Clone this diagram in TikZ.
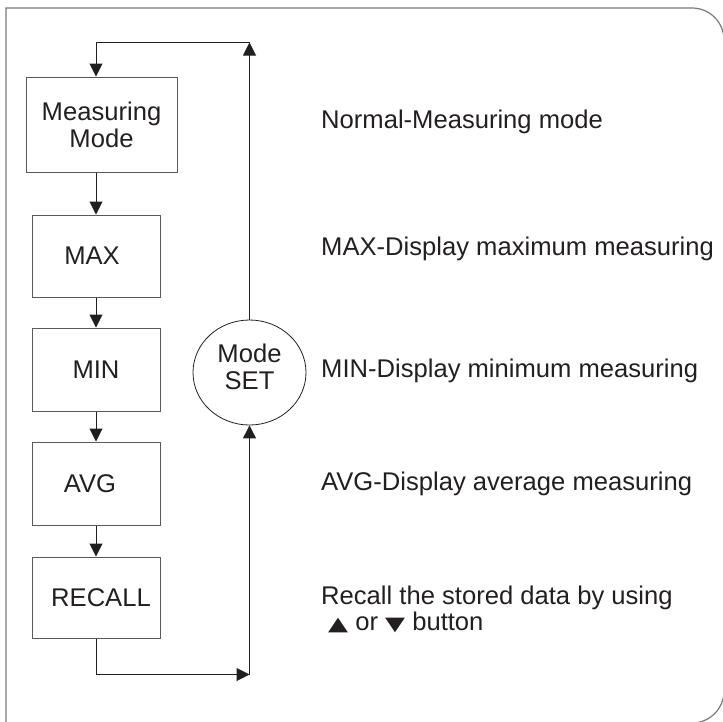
\documentclass[tikz,border=0pt]{standalone}
\usepackage{fontspec}
\setmainfont{Liberation Sans}
\newfontfamily\symfont{DejaVu Sans}
\usetikzlibrary{arrows.meta,shapes.geometric}
\definecolor{ink}{HTML}{231F20}
\definecolor{boxline}{HTML}{5A5A5A}
\definecolor{frameline}{HTML}{7A7A7A}
\newcommand{\tri}[1]{\scalebox{1}[0.74]{\symfont\fontsize{26}{26}\selectfont #1}}
\begin{document}
\begin{tikzpicture}[x=1pt,y=-1pt,
  every node/.style={text=ink, font=\fontsize{25.6}{27}\selectfont},
  flowbox/.style={draw=boxline, line width=1pt, minimum width=128pt, minimum height=82pt, inner sep=0pt, align=center},
  conn/.style={draw=ink, line width=1pt},
  arr/.style={conn, -{Triangle[width=13pt,length=13pt]}},
  desc/.style={anchor=base west, inner sep=0pt}]
\useasboundingbox (0,0) rectangle (723,721);
% frame
\begin{scope}
\clip (0,0) rectangle (723,721);
\draw[frameline, line width=1.2pt] (6,730) -- (6,8) -- (692,8)
  arc[start angle=-90, end angle=0, radius=32] -- (724,691)
  arc[start angle=0, end angle=90, radius=32] -- (6,723);
\end{scope}
% boxes
\node[flowbox, minimum width=151pt, minimum height=95pt] (meas) at (101.5,124.5) {Measuring\\Mode};
\node[flowbox, minimum height=82pt] (max) at (96,256) {\hspace*{-8pt}MAX};
\node[flowbox, minimum height=83pt] (min) at (96,369.5) {MIN};
\node[flowbox, minimum height=83pt] (avg) at (96,483.5) {\hspace*{-12pt}AVG};
\node[flowbox, minimum height=81pt] (recall) at (96,597.5) {\hspace*{10pt}RECALL};
% mode set
\node[draw=ink, line width=0.8pt, ellipse, minimum width=113pt, minimum height=105pt, inner sep=0pt] (set) at (249.5,372.5) {};
\node[align=center, inner sep=0pt] (settxt) at (249.5,367) {Mode\\SET};
% connectors
\coordinate (tr) at (249.5,42.5);
\coordinate (tl) at (96,42.5);
\coordinate (bl) at (96,674.5);
\coordinate (br) at (249.5,674.5);
\draw[arr] (set.north) -- (tr);
\draw[arr] (tr) -- (tl) -- (max.north |- meas.north);
\draw[arr] (max.north |- meas.south) -- (max.north);
\draw[arr] (max.south) -- (min.north);
\draw[arr] (min.south) -- (avg.north);
\draw[arr] (avg.south) -- (recall.north);
\draw[arr] (recall.south) -- (bl) -- (br);
\draw[arr] (br) -- (set.south);
% descriptions
\node[desc] (d1) at (321,128) {Normal-Measuring mode};
\node[desc] (d2) at (321,255) {MAX-Display maximum measuring};
\node[desc] (d3) at (321,377) {MIN-Display minimum measuring};
\node[desc] (d4) at (321,490) {AVG-Display average measuring};
\node[desc] (d5) at (321,604) {Recall the stored data by using};
\node[desc] (d6) at (328,630) {\tri{▲} or \tri{▼} button};
\end{tikzpicture}
\end{document}
